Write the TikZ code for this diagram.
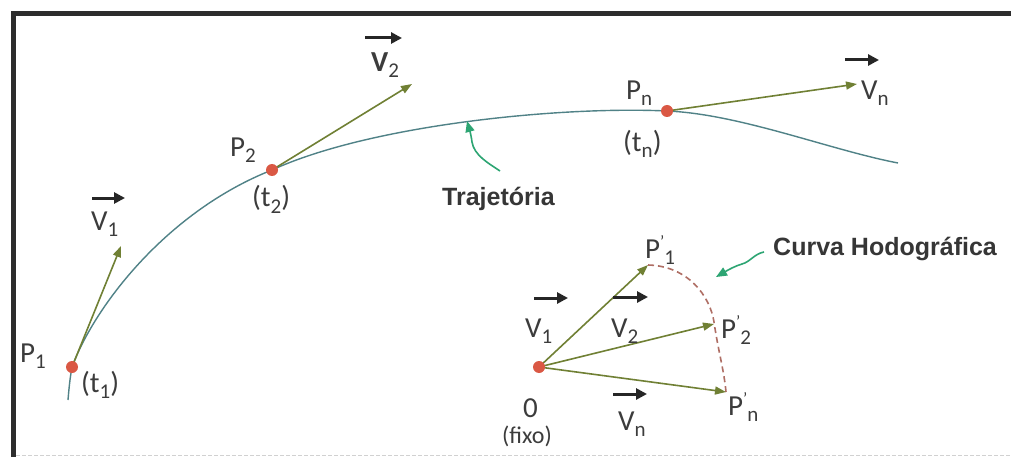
\documentclass[tikz,border=0pt]{standalone}
\usepackage{fontspec}
\setmainfont{Carlito}
\newfontfamily\arialf{Liberation Sans}
\usetikzlibrary{arrows.meta}
\definecolor{curvec}{RGB}{80,130,135}
\definecolor{velc}{RGB}{112,128,52}
\definecolor{dotc}{RGB}{218,88,68}
\definecolor{hodoc}{RGB}{175,110,100}
\definecolor{pointc}{RGB}{45,165,115}
\definecolor{txtc}{RGB}{60,60,60}
\definecolor{framec}{RGB}{45,45,45}
\newcommand{\sbs}[1]{\raisebox{-6pt}{\fontsize{21}{21}\selectfont #1}}
\newcommand{\prm}{\raisebox{11pt}{\fontsize{17}{17}\selectfont '}}
\begin{document}
\begin{tikzpicture}[x=1pt,y=-1pt,
  lbl/.style={inner sep=0pt,anchor=base west,text=txtc,font=\fontsize{29}{30}\selectfont},
  bold/.style={inner sep=0pt,anchor=base west,text=txtc!90!black,font=\arialf\bfseries\fontsize{25}{26}\selectfont},
  velarrow/.style={draw=velc,line width=1.6pt,-{Triangle[length=11pt,width=8pt]}},
  vecmark/.style={draw=black!85,line width=3pt,-{Triangle[length=11pt,width=11pt]}},
  dotn/.style={circle,fill=dotc,inner sep=0pt,minimum size=12pt},
  pointer/.style={draw=pointc,line width=1.6pt,-{Triangle[length=11pt,width=9pt]}},
  hodo/.style={draw=hodoc,line width=1.6pt,dash pattern=on 6pt off 4pt}]
\useasboundingbox (0,0) rectangle (1011,457);
\fill[white] (0,0) rectangle (1011,457);
% frame
\draw[framec,line width=5pt] (13.5,457) -- (13.5,14) -- (1011,14);
\draw[black!18,line width=1pt,dash pattern=on 4pt off 2pt] (16,455) -- (1011,455);
% positions
\coordinate (P1) at (72,367);
\coordinate (P2) at (272,170);
\coordinate (Pn) at (667,111);
\coordinate (O) at (539,367);
\coordinate (v1t) at (121,246);
\coordinate (v2t) at (412,84);
\coordinate (vnt) at (857,84);
\coordinate (hp1) at (648,265);
\coordinate (hp2) at (714,324);
\coordinate (hpn) at (726,392);
\coordinate (cs) at (68,400);
\coordinate (ce) at (898,163);
% trajectory
\draw[curvec,line width=1.4pt] (cs) .. controls (69,388) and (70,378) .. (P1)
  .. controls (95,305) and (168,211) .. (P2)
  .. controls (370,125) and (560,106) .. (Pn)
  .. controls (740,114) and (830,150) .. (ce);
% velocity arrows
\draw[velarrow] (P1) -- (v1t);
\draw[velarrow] (P2) -- (v2t);
\draw[velarrow] (Pn) -- (vnt);
% hodograph
\draw[hodo] (hp1) .. controls (688,266) and (710,296) .. (714,322) .. controls (718,350) and (724,370) .. (hpn);
\draw[velarrow] (O) -- (hp1);
\draw[velarrow] (O) -- (hp2);
\draw[velarrow] (O) -- (hpn);
% dots
\node[dotn] (d1) at (P1) {};
\node[dotn] (d2) at (P2) {};
\node[dotn] (dn) at (Pn) {};
\node[dotn] (dO) at (O) {};
% labels trajectory
\node[lbl] (lP1) at (20,362) {P\sbs{1}};
\node[lbl] (lt1) at (81,392) {(t\sbs{1})};
\node[lbl] (lP2) at (230,157) {P\sbs{2}};
\node[lbl] (lt2) at (252,207) {(t\sbs{2})};
\node[lbl] (lPn) at (626,100) {P\sbs{n}};
\node[lbl] (ltn) at (623,152) {(t\sbs{n})};
\node[lbl] (lV1) at (91,230) {V\sbs{1}};
\draw[vecmark] ([xshift=1pt,yshift=32pt]lV1.base west) -- ++(33,0);
\node[lbl] (lV2) at (371,72) {\textbf{V}\sbs{2}};
\draw[vecmark] ([xshift=-6pt,yshift=34pt]lV2.base west) -- ++(37,0);
\node[lbl] (lVn) at (861,100) {V\sbs{n}};
\draw[vecmark] ([xshift=-16pt,yshift=40pt]lVn.base west) -- ++(34,0);
% labels hodograph
\node[lbl] (hV1) at (525,337) {V\sbs{1}};
\draw[vecmark] ([xshift=9pt,yshift=39pt]hV1.base west) -- ++(34,0);
\node[lbl] (hV2) at (611,337) {V\sbs{2}};
\draw[vecmark] ([xshift=2pt,yshift=40pt]hV2.base west) -- ++(35,0);
\node[lbl] (hVn) at (618,430) {V\sbs{n}};
\draw[vecmark] ([xshift=-5pt,yshift=36pt]hVn.base west) -- ++(34,0);
\node[lbl] (l0) at (523,417) {0};
\node[lbl,font=\fontsize{24}{25}\selectfont] (lfix) at (502,443) {(fixo)};
\node[lbl] (lq1) at (645,258) {P\prm\sbs{1}};
\node[lbl] (lq2) at (721,338) {P\prm\sbs{2}};
\node[lbl] (lqn) at (728,415) {P\prm\sbs{n}};
% bold labels and pointers
\node[bold] (ltraj) at (442,205) {Trajetória};
\node[bold] (lcurva) at (773,255) {Curva Hodográfica};
\draw[pointer] (500,171) .. controls (488,163) and (474,155) .. (472,142) .. controls (471,134) and (469,128) .. (467,121);
\draw[pointer] (764,252) .. controls (754,254) and (750,262) .. (742,264) .. controls (735,266) and (728,270) .. (716,277);
\end{tikzpicture}
\end{document}
